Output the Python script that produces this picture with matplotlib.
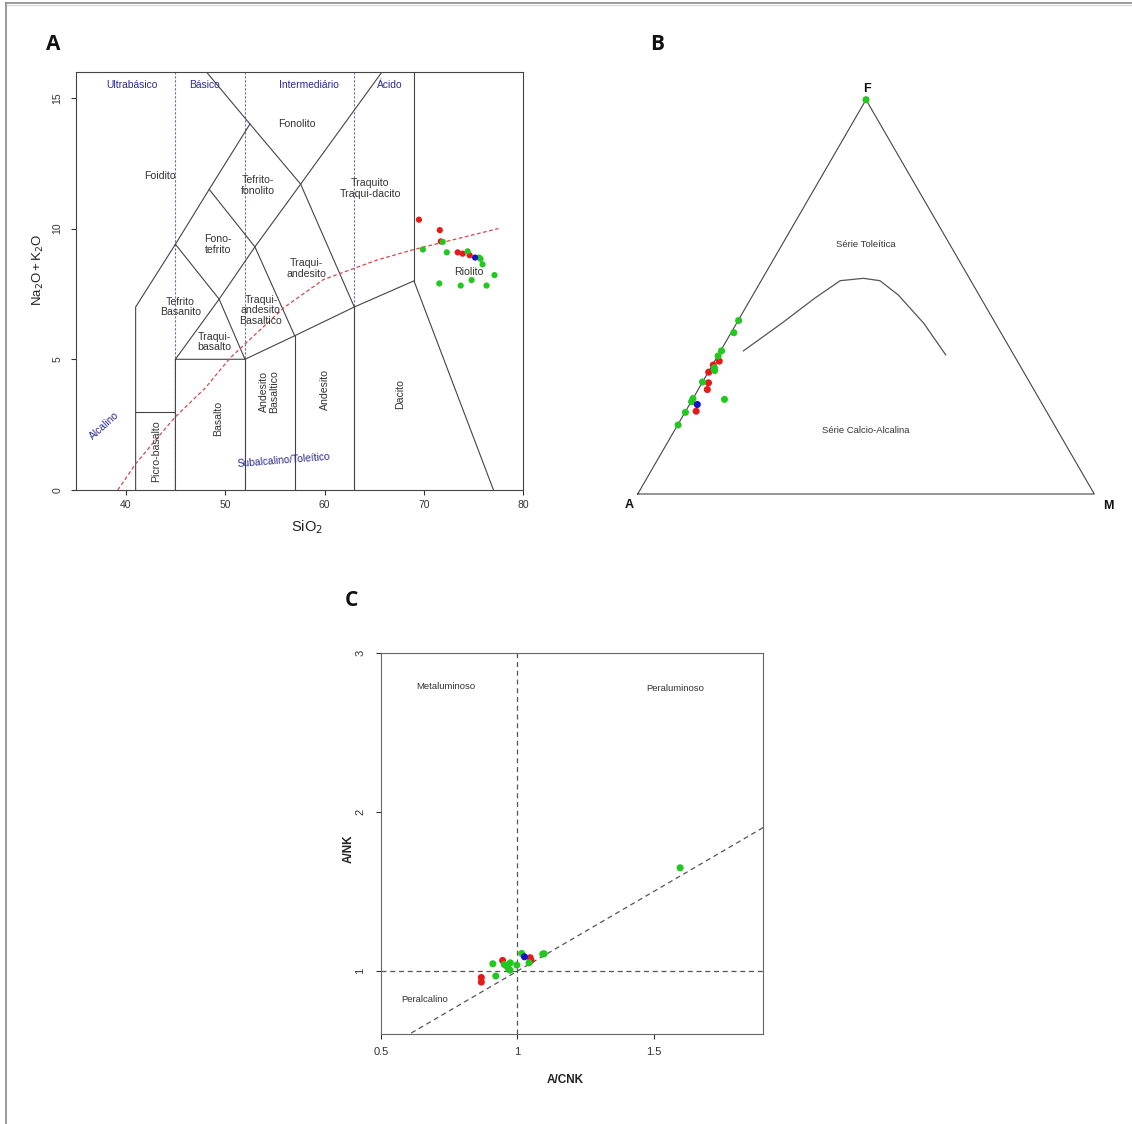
import matplotlib
matplotlib.use("Agg")
import matplotlib.pyplot as plt
from matplotlib.lines import Line2D

plt.rcParams['font.family'] = ['Liberation Sans', 'DejaVu Sans']

W, H, DPI = 1132, 1124, 100

RED = '#e51a1a'
GREEN = '#22c81f'
BLUE = '#1414c8'
LINE = '#444444'
NAVY = '#2b2b8f'

# ---------------- A: TAS (SiO2 vs Na2O+K2O) ----------------
sio2_red = [69.5, 71.6, 71.7, 73.4, 73.9, 74.6]
alk_red = [10.34, 9.94, 9.51, 9.09, 9.04, 8.98]
sio2_blue = [75.15]
alk_blue = [8.89]
sio2_green = [71.9, 69.9, 72.3, 74.4, 75.55, 75.7, 75.9, 77.1, 71.55, 74.8, 73.7, 76.3]
alk_green = [9.49, 9.2, 9.09, 9.13, 8.89, 8.84, 8.63, 8.22, 7.9, 8.03, 7.82, 7.82]

# Field boundaries (Le Bas et al. 1986)
tas_fields = [
    [(41, 0), (41, 7), (45, 9.4), (48.4, 11.5), (52.5, 14)],
    [(48.1, 16), (52.5, 14), (57.6, 11.7), (63, 7)],
    [(45, 9.4), (49.4, 7.3), (52, 5)],
    [(48.4, 11.5), (53, 9.3), (57, 5.9)],
    [(45, 5), (49.4, 7.3), (53, 9.3), (57.6, 11.7), (65.8, 16)],
    [(41, 3), (45, 3)],
    [(45, 0), (45, 5), (52, 5), (57, 5.9), (63, 7), (69, 8), (77, 0)],
    [(52, 0), (52, 5)],
    [(57, 0), (57, 5.9)],
    [(63, 0), (63, 7)],
    [(69, 8), (69, 16)],
]
silica_limits = [45, 52, 63]

# Alkaline / subalkaline divide (Irvine & Baragar 1971)
ib_sio2 = [39.2, 41, 43.2, 45, 48, 50.5, 53.9, 56, 59.9, 65.3, 69, 77.5]
ib_alk = [0, 1.0, 2.0, 2.8, 3.9, 5.05, 6.26, 7.0, 8.05, 8.8, 9.2, 10.0]

tas_names = ["Fonolito", "Foidito", "Tefrito-\nfonolito", "Traquito\nTraqui-dacito",
             "Fono-\ntefrito", "Traqui-\nandesito", "Tefrito\nBasanito",
             "Traqui-\nandesito\nBasaltico", "Traqui-\nbasalto", "Riolito"]
tas_name_xy = [(57.2, 14.0), (43.4, 12.0), (53.3, 11.65), (64.6, 11.53), (49.3, 9.39),
               (58.2, 8.47), (45.5, 7.0), (53.6, 6.87), (48.9, 5.66), (74.5, 8.34)]
tas_vnames = ["Picro-basalto", "Basalto", "Andesito\nBasaltico", "Andesito", "Dacito"]
tas_vname_xy = [(43.1, 1.5), (49.3, 2.75), (54.4, 3.77), (60.0, 3.83), (67.6, 3.67)]
tas_classes = ["Ultrabásico", "Básico", "Intermediário", "Ácido"]
tas_class_x = [40.6, 47.9, 58.4, 66.6]

# ---------------- B: AFM ternary (percent) ----------------
afm_red_a = [65.3, 67.1, 69.0, 70.4, 71.5, 76.7]
afm_red_f = [33.7, 32.7, 30.9, 28.2, 26.5, 21.0]
afm_red_m = [1.0, 0.2, 0.1, 1.4, 2.0, 2.3]
afm_blue_a = [75.6]
afm_blue_f = [22.7]
afm_blue_m = [1.7]
afm_green_a = [55.9, 58.5, 63.5, 64.9, 67.2, 67.5, 71.6, 75.8, 76.5, 69.0, 79.2, 82.4, 0.0]
afm_green_f = [44.0, 40.9, 36.3, 35.0, 32.0, 31.3, 28.4, 24.2, 23.4, 24.0, 20.7, 17.5, 100.0]
afm_green_m = [0.1, 0.6, 0.2, 0.1, 0.8, 1.2, 0.0, 0.0, 0.1, 7.0, 0.1, 0.1, 0.0]

# Tholeiitic / calc-alkaline divide
afm_div_a = [58.7, 46.8, 36.5, 28.6, 23.2, 19.9, 17.7, 15.7, 14.9]
afm_div_f = [36.3, 43.3, 49.6, 54.1, 54.7, 54.1, 50.5, 43.3, 35.3]
afm_div_m = [5.0, 9.9, 13.9, 17.3, 22.1, 26.0, 31.8, 41.0, 49.8]

# ---------------- C: Shand index ----------------
acnk_red = [0.946, 0.961, 1.047, 1.050, 0.868, 0.868]
ank_red = [1.067, 1.033, 1.084, 1.067, 0.960, 0.931]
acnk_blue = [1.026]
ank_blue = [1.090]
acnk_green = [1.597, 1.016, 1.043, 1.093, 1.098, 0.998, 0.974, 0.910, 0.952, 0.967, 0.973, 0.921]
ank_green = [1.649, 1.111, 1.052, 1.107, 1.109, 1.038, 1.052, 1.046, 1.042, 1.017, 1.006, 0.969]


def box(left, top, right, bottom):
    return [left / W, 1 - bottom / H, (right - left) / W, (bottom - top) / H]


def r_style(ax, spine_color, size):
    for s in ax.spines.values():
        s.set_color(spine_color)
        s.set_linewidth(0.8)
    ax.tick_params(direction='out', length=3.4, width=0.8, colors='#333333',
                   labelsize=size)
    ax.tick_params(axis='x', pad=3.5)
    ax.tick_params(axis='y', pad=6.5)
    for lab in ax.get_yticklabels():
        lab.set_rotation(90)
        lab.set_va('center')
        lab.set_ha('right')


fig = plt.figure(figsize=(W / DPI, H / DPI), dpi=DPI)

# ---------- panel A ----------
axA = fig.add_axes(box(76, 71.7, 523.3, 490))
axA.set_xlim(35, 80)
axA.set_ylim(0, 16)
axA.set_xticks([40, 50, 60, 70, 80])
axA.set_yticks([0, 5, 10, 15])
r_style(axA, '#444444', 7.5)

for xs in silica_limits:
    axA.plot([xs, xs], [0, 16], color='#6a6aa8', lw=0.8, ls=(0, (2, 1.6)), zorder=1)
for poly in tas_fields:
    axA.plot([p[0] for p in poly], [p[1] for p in poly], color=LINE, lw=0.8, zorder=2)
axA.plot(ib_sio2, ib_alk, color='#d24a4a', lw=0.9, ls=(0, (3, 2)), zorder=3)

for name, (x, y) in zip(tas_names, tas_name_xy):
    axA.text(x, y, name, ha='center', va='center', fontsize=7.6, color='#333333',
             linespacing=1.05, zorder=4)
for name, (x, y) in zip(tas_vnames, tas_vname_xy):
    axA.text(x, y, name, ha='center', va='center', fontsize=7.6, color='#333333',
             rotation=90, linespacing=1.0, zorder=4)
for name, x in zip(tas_classes, tas_class_x):
    axA.text(x, 15.5, name, ha='center', va='center', fontsize=7.4, color=NAVY, zorder=4)
axA.text(37.9, 2.46, "Alcalino", ha='center', va='center', fontsize=7.4, color=NAVY,
         rotation=42, zorder=4)
axA.text(55.9, 1.15, "Subalcalino/Toleítico", ha='center', va='center', fontsize=7.4,
         color=NAVY, rotation=4.5, zorder=4)

axA.scatter(sio2_red, alk_red, s=20, c=RED, edgecolors='none', zorder=5)
axA.scatter(sio2_green, alk_green, s=20, c=GREEN, edgecolors='none', zorder=6)
axA.scatter(sio2_blue, alk_blue, s=20, c=BLUE, edgecolors='none', zorder=7)

axA.text(0.516, -0.088, "SiO$_2$", transform=axA.transAxes, ha='center', va='center',
         fontsize=10.5, color='#222222')
axA.text(-0.084, 0.526, "Na$_2$O$\\,$+$\\,$K$_2$O", transform=axA.transAxes, ha='center',
         va='center', fontsize=9.5, rotation=90, color='#222222')

# ---------- panel B ----------
axB = fig.add_axes(box(637.7, 99.7, 1094.3, 494))
axB.set_xlim(0, 1)
axB.set_ylim(0, 1)
axB.axis('off')


def tern(a, f, m):
    xs, ys = [], []
    for ai, fi, mi in zip(a, f, m):
        tot = ai + fi + mi
        xs.append((mi + fi / 2) / tot)
        ys.append(fi / tot)
    return xs, ys


axB.plot([0, 1, 0.5, 0], [0, 0, 1, 0], color=LINE, lw=0.8, clip_on=False)
dx, dy = tern(afm_div_a, afm_div_f, afm_div_m)
axB.plot(dx, dy, color='#555555', lw=0.9)

for a, f, m, col, z in [(afm_red_a, afm_red_f, afm_red_m, RED, 5),
                        (afm_green_a, afm_green_f, afm_green_m, GREEN, 6),
                        (afm_blue_a, afm_blue_f, afm_blue_m, BLUE, 7)]:
    px, py = tern(a, f, m)
    axB.scatter(px, py, s=26, c=col, edgecolors='none', zorder=z, clip_on=False)

axB.text(0.5, 0.634, "Série Toleítica", ha='center', va='center', fontsize=6.8, color='#333333')
axB.text(0.5, 0.162, "Série Calcio-Alcalina", ha='center', va='center', fontsize=6.8,
         color='#333333')
axB.text(0.5015, 1.027, "F", ha='center', va='center', fontsize=9, fontweight='bold',
         color='#111111')
axB.text(-0.019, -0.028, "A", ha='center', va='center', fontsize=9, fontweight='bold',
         color='#111111')
axB.text(1.031, -0.030, "M", ha='center', va='center', fontsize=9, fontweight='bold',
         color='#111111')

# ---------- panel C ----------
axC = fig.add_axes(box(381, 652.7, 763.3, 1034.3))
axC.set_xlim(0.5, 1.902)
axC.set_ylim(0.603, 3)
axC.set_xticks([0.5, 1, 1.5])
axC.set_xticklabels(["0.5", "1", "1.5"])
axC.set_yticks([1, 2, 3])
r_style(axC, '#666666', 8)
axC.tick_params(axis='x', pad=6)
axC.tick_params(axis='y', pad=8)

dash = (0, (4, 3))
axC.axvline(1, color='#555555', lw=0.9, ls=dash, zorder=1)
axC.axhline(1, color='#555555', lw=0.9, ls=dash, zorder=1)
axC.plot([0.5, 1.902], [0.5, 1.902], color='#555555', lw=0.9, ls=dash, zorder=1)

axC.scatter(acnk_red, ank_red, s=26, c=RED, edgecolors='none', zorder=5)
axC.scatter(acnk_green, ank_green, s=26, c=GREEN, edgecolors='none', zorder=6)
axC.scatter(acnk_blue, ank_blue, s=26, c=BLUE, edgecolors='none', zorder=7)

axC.text(0.738, 2.789, "Metaluminoso", ha='center', va='center', fontsize=6.8, color='#333333')
axC.text(1.578, 2.778, "Peraluminoso", ha='center', va='center', fontsize=6.8, color='#333333')
axC.text(0.661, 0.824, "Peralcalino", ha='center', va='center', fontsize=6.8, color='#333333')
axC.text(0.481, -0.12, "A/CNK", transform=axC.transAxes, ha='center', va='center',
         fontsize=8.5, fontweight='bold', color='#222222')
axC.text(-0.0855, 0.487, "A/NK", transform=axC.transAxes, ha='center', va='center',
         fontsize=8.5, fontweight='bold', rotation=90, color='#222222')

# ---------- panel letters ----------
for letter, (x, y) in zip(["A", "B", "C"], [(53, 45), (657, 45), (351.5, 600.5)]):
    fig.text(x / W, 1 - y / H, letter, ha='center', va='center', fontsize=15,
             fontweight='bold', family=['Open Sans', 'DejaVu Sans'], color='#111111')

# ---------- outer frame ----------
fig.add_artist(Line2D([6 / W, 1], [1 - 3 / H, 1 - 3 / H], transform=fig.transFigure,
                      color='#8a8a8a', lw=1.2))
fig.add_artist(Line2D([7 / W, 1], [1 - 5 / H, 1 - 5 / H], transform=fig.transFigure,
                      color='#d8d8d8', lw=0.8))
fig.add_artist(Line2D([6 / W, 6 / W], [0, 1 - 3 / H], transform=fig.transFigure,
                      color='#8a8a8a', lw=1.2))

fig.savefig("out.png", dpi=DPI, facecolor='white')
